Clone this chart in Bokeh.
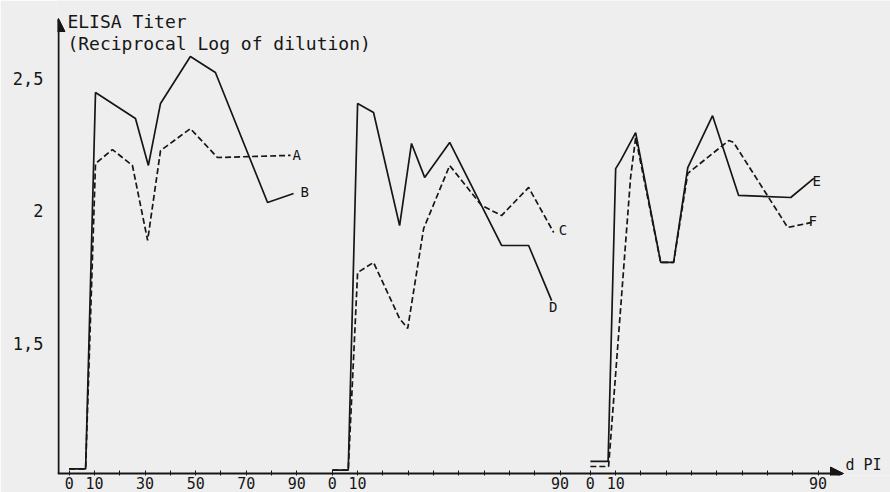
from bokeh.plotting import figure
from bokeh.models import Range1d, FixedTicker, Arrow, NormalHead, Label
from bokeh.core.properties import value
from bokeh.embed import file_html
from bokeh.resources import INLINE

FONT = "DejaVu Sans Mono"
INK = "#161616"
BG = "#eeeeee"

# ---- data (days post infection, reciprocal log titer) ----
panel_offsets = [0, 104, 206]          # where each of the three panels starts on the shared axis
tick_days = [0, 10, 20, 30, 40, 50, 60, 70, 80, 90]
panel_tick_text = [
    {0: "0", 10: "10", 30: "30", 50: "50", 70: "70", 90: "90"},
    {0: "0", 10: "10", 90: "90"},
    {0: "0", 10: "10", 90: "90"},
]
y_ticks = [1.5, 2, 2.5]
y_tick_text = ["1,5", "2", "2,5"]

# panel 1
a_days = [0, 6.5, 10.4, 17.1, 25.0, 31.0, 36.1, 47.9, 58.6, 87.5]
a_vals = [1.025, 1.025, 2.177, 2.230, 2.170, 1.887, 2.226, 2.309, 2.200, 2.208]
b_days = [0, 6.5, 10.4, 26.2, 31.3, 36.1, 47.9, 57.8, 78.4, 88.7]
b_vals = [1.025, 1.025, 2.445, 2.347, 2.170, 2.404, 2.581, 2.521, 2.030, 2.064]
# panel 2
c_days = [0, 6.3, 10, 16.3, 26.6, 29.8, 36.1, 46.4, 59.0, 66.9, 77.6, 87.5]
c_vals = [1.02, 1.02, 1.766, 1.804, 1.592, 1.555, 1.932, 2.170, 2.019, 1.981, 2.087, 1.917]
d_days = [0, 6.3, 10, 16.3, 26.6, 31.3, 36.5, 46.4, 66.9, 77.6, 86.7]
d_vals = [1.02, 1.02, 2.404, 2.370, 1.943, 2.253, 2.125, 2.257, 1.868, 1.868, 1.660]
# panel 3
e_days = [0, 7, 10, 12, 17.9, 27.8, 32.9, 38.5, 48.3, 58.6, 79.2, 88.3]
e_vals = [1.053, 1.053, 2.158, 2.189, 2.294, 1.804, 1.804, 2.162, 2.358, 2.057, 2.049, 2.121]
f_days = [0, 7.2, 15.9, 17.9, 27.8, 32.9, 38.5, 54.7, 56.6, 78.0, 87.5]
f_vals = [1.034, 1.034, 2.125, 2.275, 1.804, 1.804, 2.140, 2.264, 2.257, 1.936, 1.955]

series_names = ["A", "B", "C", "D", "E", "F"]
series_panel = [0, 0, 1, 1, 2, 2]
series_dashed = [True, False, True, False, False, True]
series_days = [a_days, b_days, c_days, d_days, e_days, f_days]
series_vals = [a_vals, b_vals, c_vals, d_vals, e_vals, f_vals]
label_days = [88.3, 91.4, 89.5, 85.6, 87.8, 86.2]
label_vals = [2.208, 2.068, 1.925, 1.634, 2.113, 1.962]

# axis extents (shared x axis in days, panel 3 ends at 90 + offset)
x_lo, x_hi = -4.62, 324.63
y_lo, y_hi = 1.0, 2.7925
x_axis_end = 306.05
y_axis_end = 2.7245

p = figure(width=890, height=492, output_backend="svg", toolbar_location=None,
           x_range=Range1d(x_lo, x_hi), y_range=Range1d(y_lo, y_hi),
           min_border_left=57, min_border_right=0, min_border_top=0, min_border_bottom=17)
p.background_fill_color = BG
p.border_fill_color = BG
p.outline_line_color = None
p.grid.visible = False

for name, pan, dashed, dd, vv in zip(series_names, series_panel, series_dashed, series_days, series_vals):
    xs = [panel_offsets[pan] + d for d in dd]
    p.line(xs, vv, line_color=INK, line_width=1.7,
           line_dash=("6 3" if dashed else "solid"))

lx = [panel_offsets[pan] + d for pan, d in zip(series_panel, label_days)]
p.text(lx, label_vals, text=series_names, text_font=value(FONT), text_font_size="14px",
       text_baseline="middle", text_align="left", text_color=INK)

# axes (ticks and labels from Bokeh, axis lines drawn as arrows below)
ticks = []
overrides = {}
for off, txt in zip(panel_offsets, panel_tick_text):
    for d in tick_days:
        ticks.append(off + d)
        overrides[off + d] = txt.get(d, "")
p.xaxis.ticker = FixedTicker(ticks=ticks)
p.xaxis.major_label_overrides = overrides
p.yaxis.ticker = FixedTicker(ticks=y_ticks)
p.yaxis.major_label_overrides = dict(zip(y_ticks, y_tick_text))

for ax in (p.xaxis, p.yaxis):
    ax.axis_line_color = None
    ax.major_tick_line_color = INK
    ax.minor_tick_line_color = None
    ax.major_label_text_font = FONT
    ax.major_label_text_color = INK
p.xaxis.major_tick_in = 5
p.xaxis.major_tick_out = 0
p.xaxis.major_label_standoff = 1
p.xaxis.major_label_text_font_size = "15px"
p.yaxis.major_tick_in = 0
p.yaxis.major_tick_out = 0
p.yaxis.major_label_standoff = 14
p.yaxis.major_label_text_font_size = "17px"

px = (x_hi - x_lo) / 833.0   # data units per pixel along x
py = (y_hi - y_lo) / 475.0   # data units per pixel along y
p.add_layout(Arrow(end=NormalHead(size=13, fill_color=INK, line_color=INK),
                   x_start=x_lo + px, y_start=y_lo + 2 * py, x_end=x_lo + px, y_end=y_axis_end,
                   line_color=INK, line_width=2))
p.add_layout(Arrow(end=NormalHead(size=13, fill_color=INK, line_color=INK),
                   x_start=x_lo, y_start=y_lo + 2 * py, x_end=x_axis_end, y_end=y_lo + 2 * py,
                   line_color=INK, line_width=2))

p.add_layout(Label(x=-0.7, y=2.713, text="ELISA Titer", text_font=FONT,
                   text_font_size="18px", text_baseline="middle", text_color=INK))
p.add_layout(Label(x=-0.7, y=2.630, text="(Reciprocal Log of dilution)", text_font=FONT,
                   text_font_size="18px", text_baseline="middle", text_color=INK))
p.add_layout(Label(x=x_axis_end + 0.8, y=y_lo + 1.5 * py, text="d PI", text_font=FONT,
                   text_font_size="15px", text_baseline="bottom", text_color=INK))

open("out.html", "w").write(file_html(p, INLINE))
